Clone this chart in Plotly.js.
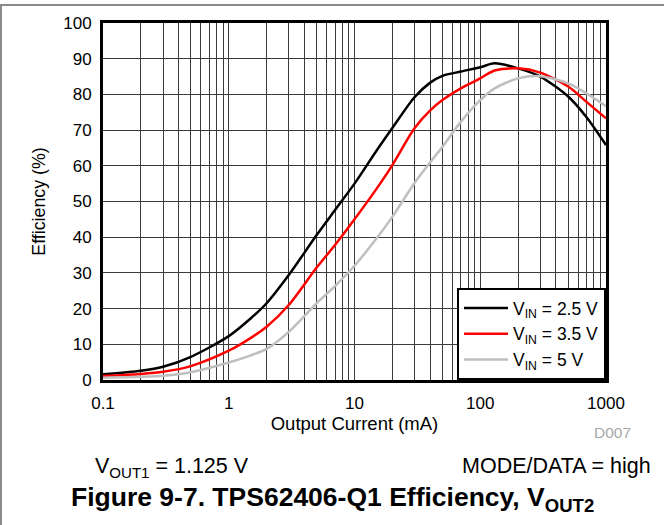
<!DOCTYPE html>
<html>
<head>
<meta charset="utf-8">
<script src="https://cdn.plot.ly/plotly-3.0.1.min.js"></script>
<style>
  html, body { margin: 0; padding: 0; background: #fff; }
  #chart { width: 664px; height: 525px; }
</style>
</head>
<body>
<div id="chart"></div>
<script>
// Output current (mA)
const currentMA = [0.1, 0.2, 0.3, 0.5, 1, 1.5, 2, 3, 5, 7, 10, 15, 20, 30, 40, 50, 70, 100, 130, 200, 300, 500, 700, 1000];

// Efficiency (%) for each input voltage
const eff25 = [1.6, 2.6, 3.7, 6.5, 12.3, 17.3, 21.5, 29.4, 40.6, 47.6, 55.0, 64.3, 70.6, 79.2, 83.3, 85.2, 86.4, 87.6, 88.7, 87.3, 85.0, 79.4, 73.6, 65.8];
const eff35 = [1.1, 1.7, 2.3, 3.9, 8.2, 11.8, 14.9, 21.0, 31.5, 37.8, 45.0, 53.6, 60.2, 70.5, 75.5, 78.4, 81.7, 84.5, 86.7, 87.3, 86.1, 82.2, 77.9, 73.3];
const eff50 = [0.65, 0.9, 1.2, 2.2, 4.9, 6.9, 8.7, 13.5, 21.5, 26.3, 32.0, 39.7, 45.7, 55.2, 61.0, 65.3, 72.3, 78.4, 81.7, 84.5, 85.1, 83.1, 80.3, 76.7];

const seriesNames = ['V<sub>IN</sub> = 2.5 V', 'V<sub>IN</sub> = 3.5 V', 'V<sub>IN</sub> = 5 V'];
const seriesColors = ['#000000', '#ff0000', '#bfbfbf'];

const xTickVals = [0.1, 1, 10, 100, 1000];
const xTickText = ['0.1', '1', '10', '100', '1000'];

const FONT = 'Liberation Sans, Arial, sans-serif';

const traces = [eff25, eff35, eff50].map((ys, i) => ({
  x: currentMA,
  y: ys,
  type: 'scatter',
  mode: 'lines',
  name: seriesNames[i],
  line: { color: seriesColors[i], width: 2.5, shape: 'spline', smoothing: 0.8 }
}));

// Paper-coordinate helpers for the outer frame lines and notes
const L = 103, R = 606, T = 23, B = 380;
const px = v => (v - L) / (R - L);
const py = v => (B - v) / (B - T);

const layout = {
  width: 664,
  height: 525,
  margin: { l: L, r: 664 - R, t: T, b: 525 - B },
  paper_bgcolor: '#ffffff',
  plot_bgcolor: '#ffffff',
  font: { family: FONT, size: 17, color: '#000' },
  showlegend: true,
  legend: {
    x: 1, xanchor: 'right',
    y: 0, yanchor: 'bottom',
    bgcolor: '#ffffff',
    bordercolor: '#000000',
    borderwidth: 2,
    font: { family: FONT, size: 17.5, color: '#000' },
    tracegroupgap: 0,
    itemwidth: 44
  },
  xaxis: {
    type: 'log',
    range: [-1, 3],
    tickvals: xTickVals,
    ticktext: xTickText,
    ticks: '',
    ticklabelstandoff: 6,
    showgrid: true,
    gridcolor: '#3a3a3a',
    gridwidth: 1,
    minor: { dtick: 'D1', showgrid: true, gridcolor: '#3a3a3a', gridwidth: 1, ticks: '' },
    showline: true,
    linecolor: '#000',
    linewidth: 3,
    mirror: true,
    zeroline: false,
    tickfont: { family: FONT, size: 17 },
    title: { text: 'Output Current (mA)', font: { family: FONT, size: 18.5 }, standoff: 4 },
    fixedrange: true
  },
  yaxis: {
    range: [0, 100],
    dtick: 10,
    ticks: '',
    ticklabelstandoff: 5,
    showgrid: true,
    gridcolor: '#3a3a3a',
    gridwidth: 1,
    showline: true,
    linecolor: '#000',
    linewidth: 3,
    mirror: true,
    zeroline: false,
    tickfont: { family: FONT, size: 17 },
    title: { text: 'Efficiency (%)', font: { family: FONT, size: 17.8 }, standoff: 13 },
    fixedrange: true
  },
  shapes: [
    { type: 'line', xref: 'paper', yref: 'paper', x0: px(0), x1: px(664), y0: py(5), y1: py(5),
      line: { color: '#8a8a8a', width: 2 } },
    { type: 'line', xref: 'paper', yref: 'paper', x0: px(1), x1: px(1), y0: py(5), y1: py(525),
      line: { color: '#8a8a8a', width: 2 } }
  ],
  annotations: [
    { xref: 'paper', yref: 'paper', x: px(633), y: py(433), xanchor: 'right', yanchor: 'middle',
      text: 'D007', showarrow: false, font: { family: FONT, size: 15.5, color: '#a8a8a8' } },
    { xref: 'paper', yref: 'paper', x: px(93), y: py(467), xanchor: 'left', yanchor: 'middle',
      text: 'V<sub>OUT1</sub> = 1.125 V', showarrow: false, font: { family: FONT, size: 21.5, color: '#000' } },
    { xref: 'paper', yref: 'paper', x: px(653), y: py(466), xanchor: 'right', yanchor: 'middle',
      text: 'MODE/DATA = high', showarrow: false, font: { family: FONT, size: 21.5, color: '#000' } },
    { xref: 'paper', yref: 'paper', x: px(332), y: py(499), xanchor: 'center', yanchor: 'middle',
      text: '<b>Figure 9-7. TPS62406-Q1 Efficiency, V<sub>OUT2</sub></b>', showarrow: false,
      font: { family: FONT, size: 26.5, color: '#000' } }
  ]
};

Plotly.newPlot('chart', traces, layout, { staticPlot: true, displayModeBar: false });
</script>
</body>
</html>
